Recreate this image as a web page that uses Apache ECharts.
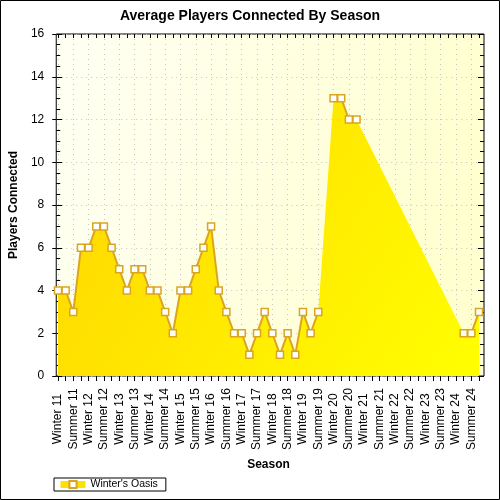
<!DOCTYPE html>
<html>
<head>
<meta charset="utf-8">
<script src="https://cdn.jsdelivr.net/npm/echarts@6/dist/echarts.min.js"></script>
<style>html,body{margin:0;padding:0;background:#fff;}#c{width:500px;height:500px;}</style>
</head>
<body>
<div id="c"></div>
<script>
// Tick labels on the x axis (one per two data points)
const seasons = ['Winter 11','Summer 11','Winter 12','Summer 12','Winter 13','Summer 13','Winter 14','Summer 14',
  'Winter 15','Summer 15','Winter 16','Summer 16','Winter 17','Summer 17','Winter 18','Summer 18',
  'Winter 19','Summer 19','Winter 20','Summer 20','Winter 21','Summer 21','Winter 22','Summer 22',
  'Winter 23','Summer 23','Winter 24','Summer 24'];
// Data points: two per season (start / mid)
const categories = seasons.flatMap(s => [s, s + ' (mid)']);
const seriesName = "Winter's Oasis";
const players = [4,4,3,6,6,7,7,6,5,4, 5,5,4,4,3,2,4,4,5,6,
  7,4,3,2,2,1,2,3,2,1, 2,1,3,2,3,null,13,13,12,12,
  null,null,null,null,null,null,null,null,null,null,null,null,null,
  2,2,3];
const yTicks = [0,2,4,6,8,10,12,14,16];

const FONT = 'Arial, "Liberation Sans", sans-serif';
const chart = echarts.init(document.getElementById('c'), null, {renderer: 'canvas'});
const dotted = {color: '#C4C4C4', width: 1, type: [1, 4]};
const option = {
  animation: false,
  title: {
    text: 'Average Players Connected By Season', left: 'center', top: 9, padding: 0,
    textStyle: {fontFamily: FONT, fontSize: 14, fontWeight: 'bold', color: '#000'}
  },
  legend: {
    data: [{name: seriesName, lineStyle: {color: '#FFE100', width: 7}}],
    left: 54, top: 478, padding: [1, 8, 1, 3],
    borderColor: '#000', borderWidth: 1, borderRadius: 0,
    itemWidth: 25, itemHeight: 9,
    textStyle: {fontFamily: FONT, fontSize: 10.5, color: '#000'}
  },
  grid: [
    {left: 54, right: 16, top: 34, bottom: 124, show: true, borderColor: '#000', borderWidth: 1,
     backgroundColor: {type: 'linear', x: 0, y: 0, x2: 1, y2: 0.3,
       colorStops: [{offset: 0, color: '#FFFFF4'}, {offset: 1, color: '#FFFFD0'}]}},
    {left: 58, right: 21, top: 34, bottom: 124}
  ],
  xAxis: [
    {gridIndex: 0, type: 'value', min: 0, max: 1, show: false},
    {gridIndex: 1, type: 'category', data: categories, boundaryGap: false, position: 'bottom',
     axisLine: {show: false},
     axisTick: {show: true, interval: 0, length: 5, lineStyle: {color: '#000'}},
     axisLabel: {interval: 1, rotate: 90, align: 'center', verticalAlign: 'middle', margin: 43,
       fontFamily: FONT, fontSize: 12, color: '#000',
       formatter: v => v.replace(' (mid)', '')},
     splitLine: {show: true, interval: 1, lineStyle: dotted},
     name: 'Season', nameLocation: 'middle', nameGap: 89,
     nameTextStyle: {fontFamily: FONT, fontSize: 12, fontWeight: 'bold', color: '#000', verticalAlign: 'middle'}},
    {gridIndex: 1, type: 'category', data: categories, boundaryGap: false, position: 'top',
     axisLine: {show: false}, axisLabel: {show: false}, splitLine: {show: false},
     axisTick: {show: true, inside: true, interval: 0, length: 4, lineStyle: {color: '#000'}}},
    {gridIndex: 1, type: 'category', data: categories, boundaryGap: false, position: 'bottom',
     axisLine: {show: false}, axisLabel: {show: false}, splitLine: {show: false},
     axisTick: {show: true, inside: true, interval: 1, length: 5, lineStyle: {color: '#000'}}}
  ],
  yAxis: [
    {gridIndex: 0, type: 'value', min: yTicks[0], max: yTicks[yTicks.length - 1], interval: 2, position: 'left',
     axisLine: {show: false},
     axisTick: {show: true, length: 4, lineStyle: {color: '#000'}},
     axisLabel: {margin: 12, fontFamily: FONT, fontSize: 12, color: '#000'},
     splitLine: {show: true, lineStyle: dotted},
     name: 'Players Connected', nameLocation: 'middle', nameGap: 38,
     nameTextStyle: {fontFamily: FONT, fontSize: 12, fontWeight: 'bold', color: '#000', verticalAlign: 'middle'}},
    {gridIndex: 0, type: 'value', min: 0, max: 16, interval: 2, position: 'left',
     axisLine: {show: false}, axisLabel: {show: false}, splitLine: {show: false},
     axisTick: {show: true, inside: true, length: 6, lineStyle: {color: '#000'}},
     minorTick: {show: true, splitNumber: 4, length: 4, lineStyle: {color: '#000'}}},
    {gridIndex: 0, type: 'value', min: 0, max: 16, interval: 2, position: 'right',
     axisLine: {show: false}, axisLabel: {show: false}, splitLine: {show: false},
     axisTick: {show: true, inside: true, length: 6, lineStyle: {color: '#000'}},
     minorTick: {show: true, splitNumber: 4, length: 4, lineStyle: {color: '#000'}}},
    {gridIndex: 1, type: 'value', min: 0, max: 16, show: false}
  ],
  series: [
    {name: 'area', type: 'line', xAxisIndex: 1, yAxisIndex: 3, data: players, connectNulls: true,
     symbol: 'none', silent: true, z: 2,
     lineStyle: {width: 0, opacity: 0},
     areaStyle: {opacity: 1, color: {type: 'linear', x: 0, y: 0, x2: 1, y2: 1,
       colorStops: [{offset: 0, color: '#FFD400'}, {offset: 1, color: '#FFFF00'}]}}},
    {name: seriesName, type: 'line', xAxisIndex: 1, yAxisIndex: 3, data: players, connectNulls: false,
     symbol: 'rect', symbolSize: 7, showAllSymbol: true, z: 3,
     lineStyle: {color: '#DAA520', width: 2},
     itemStyle: {color: '#FFFFFF', borderColor: '#DAA520', borderWidth: 1.5}}
  ],
  graphic: [
    {type: 'rect', silent: true, z: 100, shape: {x: 0.5, y: 0.5, width: 499, height: 499},
     style: {fill: 'none', stroke: '#000', lineWidth: 1}}
  ]
};
chart.setOption(option);
</script>
</body>
</html>
